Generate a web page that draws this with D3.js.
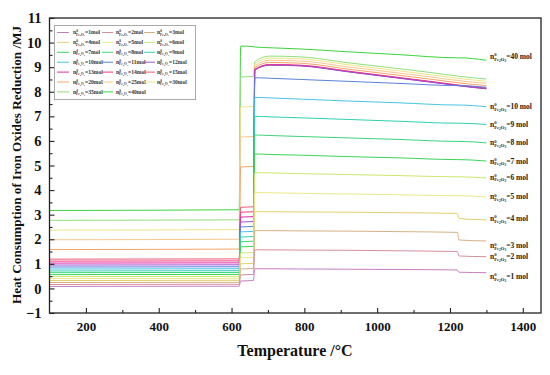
<!DOCTYPE html>
<html><head><meta charset="utf-8">
<script src="https://cdn.jsdelivr.net/npm/d3@7"></script>
<style>body{margin:0;background:#fff}svg{display:block}</style>
</head><body><div id="chart"></div>
<script>
// Temperatures (°C) at which each series is sampled
const temps = [100, 621, 625, 660, 664, 705, 790, 925, 1060, 1220, 1225, 1300];
// Moles of Fe2O3 per series
const moles = [1,2,3,4,5,6,7,8,9,10,11,12,13,14,15,20,25,30,35,40];
// Heat consumption (MJ) per series at the temperatures above
const s1  = [0.08,0.09,0.30,0.32,0.80,0.80,0.79,0.78,0.77,0.75,0.66,0.64];
const s2  = [0.16,0.17,0.55,0.57,1.57,1.57,1.56,1.55,1.53,1.50,1.32,1.29];
const s3  = [0.24,0.25,0.79,0.81,2.35,2.35,2.34,2.33,2.31,2.28,1.97,1.93];
const s4  = [0.32,0.33,1.00,1.02,3.12,3.12,3.11,3.10,3.08,3.05,2.84,2.79];
const s5  = [0.40,0.41,1.24,1.26,3.90,3.89,3.87,3.84,3.81,3.77,3.77,3.72];
const s6  = [0.48,0.49,1.44,1.46,4.71,4.70,4.67,4.63,4.59,4.54,4.54,4.49];
const s7  = [0.56,0.57,1.69,1.71,5.47,5.45,5.42,5.36,5.31,5.24,5.24,5.18];
const s8  = [0.64,0.65,1.90,1.92,6.24,6.22,6.18,6.12,6.06,5.98,5.98,5.92];
const s9  = [0.71,0.72,2.09,2.11,7.00,6.98,6.94,6.87,6.80,6.72,6.72,6.67];
const s10 = [0.79,0.80,2.30,2.32,7.77,7.75,7.70,7.62,7.55,7.46,7.46,7.39];
const s11 = [0.87,0.88,2.50,2.52,8.57,8.55,8.50,8.42,8.34,8.25,8.25,8.18];
const s12 = [0.95,0.96,2.70,2.72,8.88,9.08,9.05,8.80,8.55,8.25,8.24,8.12];
const s13 = [1.03,1.04,2.90,2.92,8.89,9.09,9.06,8.81,8.56,8.26,8.25,8.13];
const s14 = [1.11,1.12,3.10,3.12,8.90,9.10,9.07,8.82,8.57,8.27,8.26,8.14];
const s15 = [1.19,1.20,3.30,3.32,8.91,9.11,9.08,8.83,8.58,8.28,8.27,8.15];
const s20 = [1.58,1.60,4.94,4.96,8.98,9.19,9.16,8.91,8.67,8.37,8.36,8.25];
const s25 = [1.98,2.00,6.16,6.18,9.06,9.28,9.25,9.00,8.76,8.46,8.45,8.34];
const s30 = [2.37,2.39,7.38,7.40,9.14,9.37,9.34,9.09,8.85,8.55,8.54,8.43];
const s35 = [2.77,2.79,8.60,8.62,9.22,9.45,9.42,9.17,8.94,8.64,8.63,8.52];
const s40 = [3.17,3.20,9.86,9.83,9.82,9.79,9.74,9.62,9.51,9.38,9.38,9.28];
const seriesValues = [s1,s2,s3,s4,s5,s6,s7,s8,s9,s10,s11,s12,s13,s14,s15,s20,s25,s30,s35,s40];
const colors = ["#c47fc4","#d4909a","#d8b083","#e2d070","#eaea8a","#cce870","#3cd45a","#3cd47a","#30d0b0","#48c4e4",
                "#5a82dc","#a050d0","#e02aa8","#f03a80","#f05a78","#f6a468","#f8c890","#f0e488","#90e07a","#3cd43c"];
const xTicks = [200,400,600,800,1000,1200,1400];
const yTicks = [-1,0,1,2,3,4,5,6,7,8,9,10,11];
const labelledMoles = [40,10,9,8,7,6,5,4,3,2,1];

const W = 550, H = 375;
const svg = d3.select("#chart").append("svg").attr("width", W).attr("height", H);
const FONT = "'Liberation Serif','Times New Roman',serif";
const x = d3.scaleLinear().domain([100, 1450]).range([49.5, 541]);
const y = d3.scaleLinear().domain([-1, 11]).range([313, 18]);

// lines
const line = d3.line().x(d => x(d[0])).y(d => y(d[1])).curve(d3.curveMonotoneX);
const order = d3.range(moles.length).reverse();
const gLines = svg.append("g");
order.forEach(i => {
  gLines.append("path")
    .attr("d", line(temps.map((t, k) => [t, seriesValues[i][k]])))
    .attr("fill", "none").attr("stroke", colors[i]).attr("stroke-width", 1);
});

// axes frame
svg.append("rect").attr("x", 49.5).attr("y", 18).attr("width", 541 - 49.5).attr("height", 313 - 18)
  .attr("fill", "none").attr("stroke", "#222").attr("stroke-width", 1.3);

const xAxis = svg.append("g").attr("transform", "translate(0,313)")
  .call(d3.axisBottom(x).tickValues(xTicks).tickSize(-5).tickPadding(9).tickFormat(d3.format("d")));
const xMinor = svg.append("g").attr("transform", "translate(0,313)")
  .call(d3.axisBottom(x).tickValues([300,500,700,900,1100,1300]).tickSize(-3).tickFormat(""));
const yAxis = svg.append("g").attr("transform", "translate(49.5,0)")
  .call(d3.axisLeft(y).tickValues(yTicks).tickSize(-5).tickPadding(8).tickFormat(d => d < 0 ? "\u2212" + Math.abs(d) : d));
const yMinor = svg.append("g").attr("transform", "translate(49.5,0)")
  .call(d3.axisLeft(y).tickValues(d3.range(-0.5, 11, 1)).tickSize(-3).tickFormat(""));
[xAxis, xMinor, yAxis, yMinor].forEach(g => {
  g.select(".domain").remove();
  g.selectAll("line").attr("stroke", "#222").attr("stroke-width", 1.1);
});
xAxis.selectAll("text").attr("font-family", FONT).attr("font-weight", "bold").attr("font-size", 13).attr("fill", "#111");
yAxis.selectAll("text").attr("font-family", FONT).attr("font-weight", "bold").attr("font-size", 14.5).attr("fill", "#111");

// axis titles
svg.append("text").attr("x", 295).attr("y", 356).attr("text-anchor", "middle")
  .attr("font-family", FONT).attr("font-weight", "bold").attr("font-size", 16).attr("fill", "#111")
  .text("Temperature /\u00B0C");
svg.append("text").attr("transform", "translate(21,165) rotate(-90)").attr("text-anchor", "middle")
  .attr("font-family", FONT).attr("font-weight", "bold").attr("font-size", 13.2).attr("fill", "#111")
  .text("Heat Consumption of Iron Oxides Reduction /MJ");

// label builder: n^0_{Fe2O3}=...
function nLabel(textSel, fs, suffix) {
  const s = fs * 0.62;
  textSel.append("tspan").text("n");
  textSel.append("tspan").attr("font-size", s).attr("dy", -fs * 0.38).text("0");
  textSel.append("tspan").attr("font-size", s).attr("dx", -s * 0.5).attr("dy", fs * 0.62).text("Fe");
  textSel.append("tspan").attr("font-size", s * 0.75).attr("dy", s * 0.2).text("2");
  textSel.append("tspan").attr("font-size", s).attr("dy", -s * 0.2).text("O");
  textSel.append("tspan").attr("font-size", s * 0.75).attr("dy", s * 0.2).text("3");
  textSel.append("tspan").attr("dy", -fs * 0.24 - s * 0.2).text(suffix);
}

// right-side labels
const labelNudge = {40: -4, 10: 0, 9: 0, 8: 0, 7: 0, 6: -1, 5: 0, 4: -1, 3: 5, 2: 0, 1: 4};
labelledMoles.forEach(m => {
  const i = moles.indexOf(m);
  const yy = y(seriesValues[i][temps.length - 1]) + labelNudge[m] + 2.5;
  const t = svg.append("text").attr("x", 490).attr("y", yy)
    .attr("font-family", FONT).attr("font-weight", "bold").attr("font-size", 7.5).attr("fill", "#222");
  nLabel(t, 7.5, "=" + m + " mol");
});

// legend
const lg = svg.append("g");
lg.append("rect").attr("x", 54.5).attr("y", 25.5).attr("width", 141).attr("height", 74)
  .attr("fill", "#fff").attr("stroke", "#aaa").attr("stroke-width", 1);
const colX = [57, 102, 144], colLen = [12, 11, 11], txtX = [73, 116, 157];
moles.forEach((m, i) => {
  const r = Math.floor(i / 3), c = i % 3;
  const yy = 32.5 + r * 9.9;
  lg.append("line").attr("x1", colX[c]).attr("x2", colX[c] + colLen[c]).attr("y1", yy).attr("y2", yy)
    .attr("stroke", colors[i]).attr("stroke-width", 1);
  const t = lg.append("text").attr("x", txtX[c]).attr("y", yy + 1.8)
    .attr("font-family", FONT).attr("font-weight", "bold").attr("font-size", 5.6).attr("fill", "#333");
  nLabel(t, 5.6, "=" + m + "mol");
});
</script></body></html>
